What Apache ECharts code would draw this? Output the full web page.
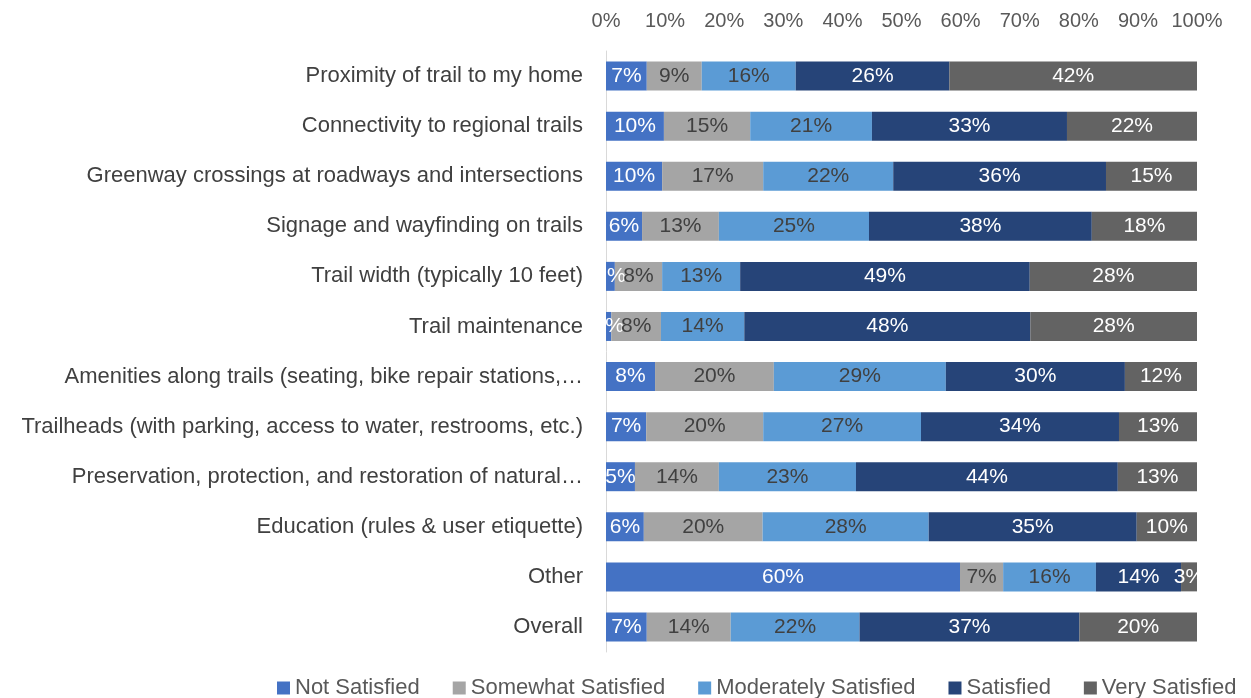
<!DOCTYPE html>
<html>
<head>
<meta charset="utf-8">
<script src="https://cdn.jsdelivr.net/npm/echarts@6/dist/echarts.min.js"></script>
<style>
  html, body { margin: 0; padding: 0; background: #fff; }
  #chart { width: 1251px; height: 698px; }
</style>
</head>
<body>
<div id="chart"></div>
<script>
// categories, top to bottom
const categories = [
  "Proximity of trail to my home",
  "Connectivity to regional trails",
  "Greenway crossings at roadways and intersections",
  "Signage and wayfinding on trails",
  "Trail width (typically 10 feet)",
  "Trail maintenance",
  "Amenities along trails (seating, bike repair stations,…",
  "Trailheads (with parking, access to water, restrooms, etc.)",
  "Preservation, protection, and restoration of natural…",
  "Education (rules & user etiquette)",
  "Other",
  "Overall"
];

const notSatisfied      = [6.9, 9.8, 9.5, 6.1, 1.5, 0.9, 8.3, 6.8, 4.9, 6.4, 59.9, 6.9];
const somewhatSatisfied = [9.3, 14.6, 17.1, 13.0, 8.0, 8.4, 20.1, 19.8, 14.2, 20.1, 7.3, 14.2];
const moderately        = [15.9, 20.6, 22.0, 25.4, 13.2, 14.1, 29.1, 26.7, 23.2, 28.1, 15.7, 21.8];
const satisfied         = [26.0, 33.0, 36.0, 37.7, 49.0, 48.4, 30.3, 33.5, 44.3, 35.2, 14.4, 37.2];
const verySatisfied     = [41.9, 22.0, 15.4, 17.8, 28.3, 28.2, 12.2, 13.2, 13.4, 10.2, 2.7, 19.9];

const seriesNames = ["Not Satisfied", "Somewhat Satisfied", "Moderately Satisfied", "Satisfied", "Very Satisfied"];
const seriesData = [notSatisfied, somewhatSatisfied, moderately, satisfied, verySatisfied];
const colors = ["#4472C4", "#A5A5A5", "#5B9BD5", "#264478", "#636363"];
const labelColors = ["#ffffff", "#404040", "#404040", "#ffffff", "#ffffff"];

const font = "'Liberation Sans', 'DejaVu Sans', sans-serif";

const chart = echarts.init(document.getElementById("chart"));

const option = {
  animation: false,
  color: colors,
  textStyle: { fontFamily: font },
  grid: { left: 606, right: 54, top: 51, bottom: 46, containLabel: false },
  legend: {
    bottom: -6,
    left: 272,
    itemWidth: 13,
    itemHeight: 13,
    itemGap: 33,
    icon: "rect",
    textStyle: { fontSize: 22, color: "#595959", fontFamily: font },
    data: seriesNames
  },
  xAxis: {
    type: "value",
    position: "top",
    min: 0,
    max: 100,
    interval: 10,
    axisLine: { show: false },
    axisTick: { show: false },
    splitLine: { show: false },
    axisLabel: {
      color: "#595959",
      fontSize: 20,
      margin: 20,
      formatter: v => v + "%"
    }
  },
  yAxis: {
    type: "category",
    inverse: true,
    data: categories,
    axisLine: { show: true, lineStyle: { color: "#D9D9D9", width: 1 } },
    axisTick: { show: false },
    axisLabel: { color: "#404040", fontSize: 22, margin: 23 }
  },
  series: seriesNames.map((name, i) => ({
    name: name,
    type: "bar",
    stack: "total",
    barWidth: 29,
    data: seriesData[i],
    itemStyle: { color: colors[i] },
    label: {
      show: true,
      position: "inside",
      color: labelColors[i],
      fontSize: 21,
      fontFamily: font,
      formatter: p => Math.round(p.value) + "%"
    }
  }))
};

chart.setOption(option);
window.addEventListener("resize", () => chart.resize());
</script>
</body>
</html>
